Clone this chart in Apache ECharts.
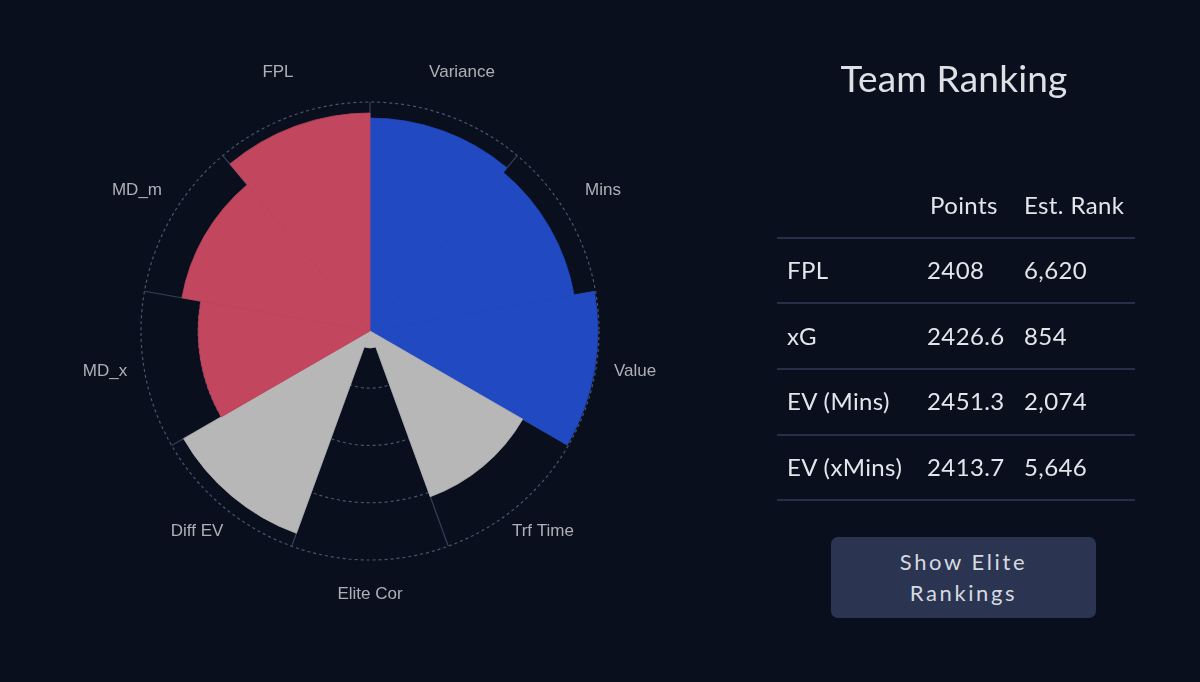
<!DOCTYPE html>
<html>
<head>
<meta charset="utf-8">
<script src="https://cdn.jsdelivr.net/npm/echarts@6/dist/echarts.min.js"></script>
<style>
  html, body { margin:0; padding:0; background:#0a0f1e; }
  #wrap { position:relative; width:1200px; height:682px; background:#0a0f1e; overflow:hidden; }
  #chart { position:absolute; left:0; top:0; width:1200px; height:682px; }
  .t { position:absolute; font-family: Lato, "Open Sans", sans-serif; color:#e2e5ea; white-space:nowrap; }
  .title { font-size:37px; line-height:44px; left:754px; width:400px; text-align:center; top:56px; color:#dde0e5; letter-spacing:0.2px; }
  .cell { font-size:24px; line-height:30px; letter-spacing:0.4px; }
  .rule { position:absolute; left:777px; width:358px; height:2px; background:#262f47; }
  .btn { position:absolute; left:831px; top:537px; width:265px; height:81px; border-radius:7px; background:#2b3450;
         font-family: Lato, "Open Sans", sans-serif; color:#d6dae1; font-size:22px; letter-spacing:2.6px;
         text-align:center; line-height:31px; box-sizing:border-box; padding-top:9px; }
</style>
</head>
<body>
<div id="wrap">
  <div id="chart"></div>
  <div id="panel"></div>
</div>
<script>
// ---- chart data ----
const categories = ['Variance', 'Mins', 'Value', 'Trf Time', 'Elite Cor', 'Diff EV', 'MD_x', 'MD_m', 'FPL'];
const values     = [93, 90.5, 99.5, 77, 7.4, 94, 75, 83.4, 95.2];
const groups     = ['blue', 'blue', 'blue', 'grey', 'grey', 'grey', 'red', 'red', 'red'];
const groupColors = { blue: '#2149c1', grey: '#b7b7b7', red: '#c1465e' };
const radialMax = 100;
const radialStep = 25;
const labelRadius = 117.5;

// ---- table data ----
const title = 'Team Ranking';
const tableHeader = ['', 'Points', 'Est. Rank'];
const rowNames  = ['FPL', 'xG', 'EV (Mins)', 'EV (xMins)'];
const rowPoints = ['2408', '2426.6', '2451.3', '2413.7'];
const rowRanks  = ['6,620', '854', '2,074', '5,646'];
const buttonText = ['Show Elite', 'Rankings'];

// ---- build panel ----
const panel = document.getElementById('panel');
function addText(cls, txt, left, top) {
  const d = document.createElement('div');
  d.className = 't ' + cls;
  d.textContent = txt;
  if (left !== null) d.style.left = left + 'px';
  d.style.top = top + 'px';
  panel.appendChild(d);
  return d;
}
addText('title', title, null, 56);
const colX = [787, 927, 1024];
const headerX = [787, 930, 1024];
const headerY = 205, rowYs = [270, 336, 401, 467];
const ruleYs = [238, 303, 369, 435, 500];
tableHeader.forEach((h, i) => { if (h) addText('cell', h, headerX[i], headerY - 15); });
rowNames.forEach((n, r) => {
  addText('cell', n, colX[0], rowYs[r] - 15);
  addText('cell', rowPoints[r], colX[1], rowYs[r] - 15);
  addText('cell', rowRanks[r], colX[2], rowYs[r] - 15);
});
ruleYs.forEach(y => {
  const l = document.createElement('div');
  l.className = 'rule';
  l.style.top = (y - 1) + 'px';
  panel.appendChild(l);
});
const btn = document.createElement('div');
btn.className = 'btn';
btn.innerHTML = buttonText.map(s => '<div>' + s + '</div>').join('');
panel.appendChild(btn);

// ---- chart ----
const chart = echarts.init(document.getElementById('chart'), null, { renderer: 'canvas' });
chart.setOption({
  backgroundColor: 'transparent',
  animation: false,
  polar: { center: [370, 331], radius: 229 },
  angleAxis: {
    type: 'category',
    data: categories,
    startAngle: 90,
    clockwise: true,
    boundaryGap: true,
    axisLine: { show: false },
    axisTick: { show: false },
    axisLabel: { show: false },
    splitLine: { show: true, lineStyle: { color: '#353f59', width: 1.2 } }
  },
  radiusAxis: {
    min: 0,
    max: radialMax,
    interval: radialStep,
    axisLine: { show: false },
    axisTick: { show: false },
    axisLabel: { show: false },
    splitLine: { show: true, lineStyle: { color: '#4a5470', width: 1.2, type: [3, 3] } }
  },
  series: [
    {
      type: 'bar',
      coordinateSystem: 'polar',
      barCategoryGap: '0%',
      z: 2,
      silent: true,
      data: values.map((v, i) => ({
        value: v,
        itemStyle: {
          color: groupColors[groups[i]],
          borderColor: groupColors[groups[i]],
          borderWidth: 0.8
        }
      }))
    },
    {
      type: 'scatter',
      coordinateSystem: 'polar',
      clip: false,
      silent: true,
      symbolSize: 0,
      itemStyle: { color: 'rgba(0,0,0,0)' },
      z: 3,
      data: categories.map(c => [labelRadius, c]),
      label: {
        show: true,
        position: 'inside',
        offset: [0, -6],
        formatter: p => categories[p.dataIndex],
        color: '#d6d7da',
        fontSize: 17,
        fontFamily: '"Liberation Sans", Arial, sans-serif'
      }
    }
  ]
});
</script>
</body>
</html>
